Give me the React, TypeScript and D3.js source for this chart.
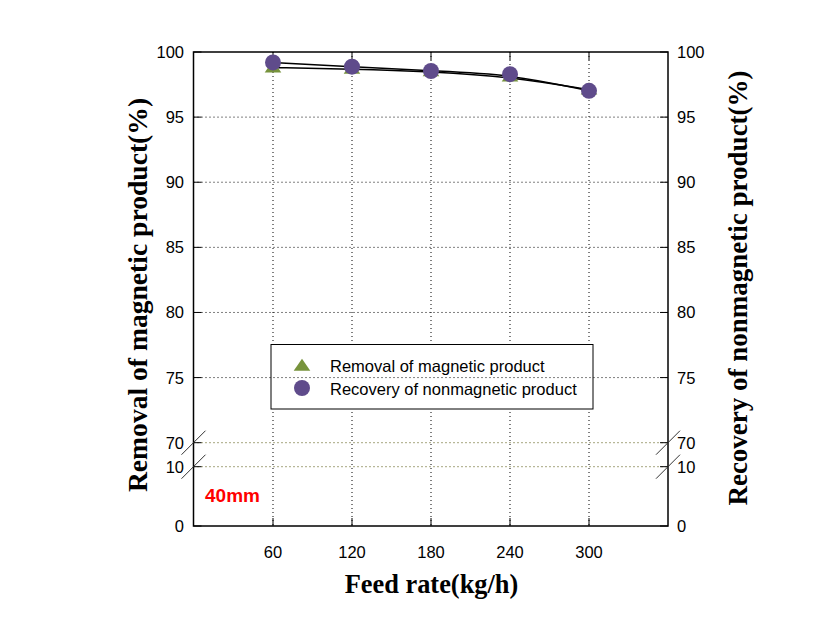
import React from "react";
import * as d3 from "d3";

const feedRates = [60, 120, 180, 240, 300];
const removal = [98.8, 98.7, 98.5, 98.1, 97.1];
const recovery = [99.2, 98.87, 98.54, 98.3, 97.02];
const xTicks = [60, 120, 180, 240, 300];
const yTicksUpper = [70, 75, 80, 85, 90, 95, 100];
const yTicksLower = [0, 10];
const legendLabels = ["Removal of magnetic product", "Recovery of nonmagnetic product"];

const W = 837, H = 632;
const L = 193.5, R = 668, T = 52, B = 526;

const x = d3.scaleLinear().domain([0, 360]).range([194, 668]);
const yUp = d3.scaleLinear().domain([70, 100]).range([442.7, 52]);
const yLo = d3.scaleLinear().domain([0, 10]).range([526, 466.7]);
const y = (v: number) => (v >= 70 ? yUp(v) : yLo(v));

const triColor = "#77933c";
const circColor = "#5f4b8b";
const gridOlive = "#4d4d00";

function tri(cx: number, cy: number) {
  const hw = 8.3, h = 12;
  return `M${cx},${cy - h * 0.6}L${cx + hw},${cy + h * 0.4}L${cx - hw},${cy + h * 0.4}Z`;
}

export default function App() {
  const line = d3
    .line<[number, number]>()
    .x((d) => x(d[0]))
    .y((d) => y(d[1]))
    .curve(d3.curveBasis);
  const remPts = feedRates.map((f, i) => [f, removal[i]] as [number, number]);
  const recPts = feedRates.map((f, i) => [f, recovery[i]] as [number, number]);
  const allY = [...yTicksUpper, ...yTicksLower];
  const tickFont = { fontFamily: "Arial, 'Liberation Sans', sans-serif", fontSize: 16.5 };
  const lblFont = { fontFamily: "'Times New Roman', 'Liberation Serif', serif", fontWeight: 700 as const };
  const slash = (cx: number, cy: number) => (
    <line x1={cx - 12} y1={cy + 12} x2={cx + 12} y2={cy - 12} stroke="#333" strokeWidth={1} />
  );
  return (
    <svg width={W} height={H} style={{ position: "absolute", left: 0, top: 0, background: "#fff" }}>
      <rect width={W} height={H} fill="#fff" />
      {xTicks.map((t) => (
        <line key={"vg" + t} x1={x(t)} x2={x(t)} y1={T} y2={B} stroke="#000" strokeDasharray="1,3" strokeWidth={1} />
      ))}
      <rect x={271} y={344.5} width={322} height={64.5} fill="#fff" stroke="#000" strokeWidth={1} />
      {allY
        .filter((v) => v !== 100 && v !== 0)
        .map((v) => (
          <line
            key={"hg" + v}
            x1={L}
            x2={R}
            y1={y(v)}
            y2={y(v)}
            stroke={v === 70 || v === 10 ? gridOlive : "#000"}
            strokeDasharray="1,3"
            strokeWidth={1}
          />
        ))}
      {allY.map((v) => (
        <g key={"yt" + v}>
          <line x1={L} x2={L + 8} y1={y(v)} y2={y(v)} stroke="#000" />
          <line x1={R} x2={R - 8} y1={y(v)} y2={y(v)} stroke="#000" />
          <text x={184} y={y(v)} dy="0.36em" textAnchor="end" {...tickFont}>{v}</text>
          <text x={677} y={y(v)} dy="0.36em" textAnchor="start" {...tickFont}>{v}</text>
        </g>
      ))}
      {xTicks.map((t) => (
        <g key={"xt" + t}>
          <line x1={x(t)} x2={x(t)} y1={B} y2={B - 8} stroke="#000" />
          <line x1={x(t)} x2={x(t)} y1={T} y2={T + 8} stroke="#000" />
          <text x={x(t)} y={558} textAnchor="middle" {...tickFont}>{t}</text>
        </g>
      ))}
      <rect x={L} y={T} width={R - L} height={B - T} fill="none" stroke="#000" strokeWidth={1.5} />
      {slash(L, y(70))}
      {slash(L, y(10))}
      {slash(R, y(70))}
      {slash(R, y(10))}
      <path d={line(remPts) || ""} fill="none" stroke="#000" strokeWidth={1.5} />
      <path d={line(recPts) || ""} fill="none" stroke="#000" strokeWidth={1.5} />
      {remPts.map((p, i) => (
        <path key={"tr" + i} d={tri(x(p[0]), y(p[1]))} fill={triColor} />
      ))}
      {recPts.map((p, i) => (
        <circle key={"ci" + i} cx={x(p[0])} cy={y(p[1])} r={8} fill={circColor} />
      ))}
      <path d={tri(302, 366)} fill={triColor} />
      <circle cx={302} cy={388} r={8} fill={circColor} />
      <text x={330} y={371.5} {...tickFont}>{legendLabels[0]}</text>
      <text x={330} y={394.5} {...tickFont}>{legendLabels[1]}</text>
      <text x={205} y={502} fill="#ff0000" fontFamily="Arial, 'Liberation Sans', sans-serif" fontWeight={700} fontSize={19}>
        40mm
      </text>
      <text transform="translate(146.6,295) rotate(-90)" textAnchor="middle" fontSize={27.6} {...lblFont}>
        Removal of magnetic product(%)
      </text>
      <text transform="translate(746.6,288) rotate(-90)" textAnchor="middle" fontSize={27} {...lblFont}>
        Recovery of nonmagnetic product(%)
      </text>
      <text x={431.5} y={593} textAnchor="middle" fontSize={26.4} {...lblFont}>
        Feed rate(kg/h)
      </text>
    </svg>
  );
}
